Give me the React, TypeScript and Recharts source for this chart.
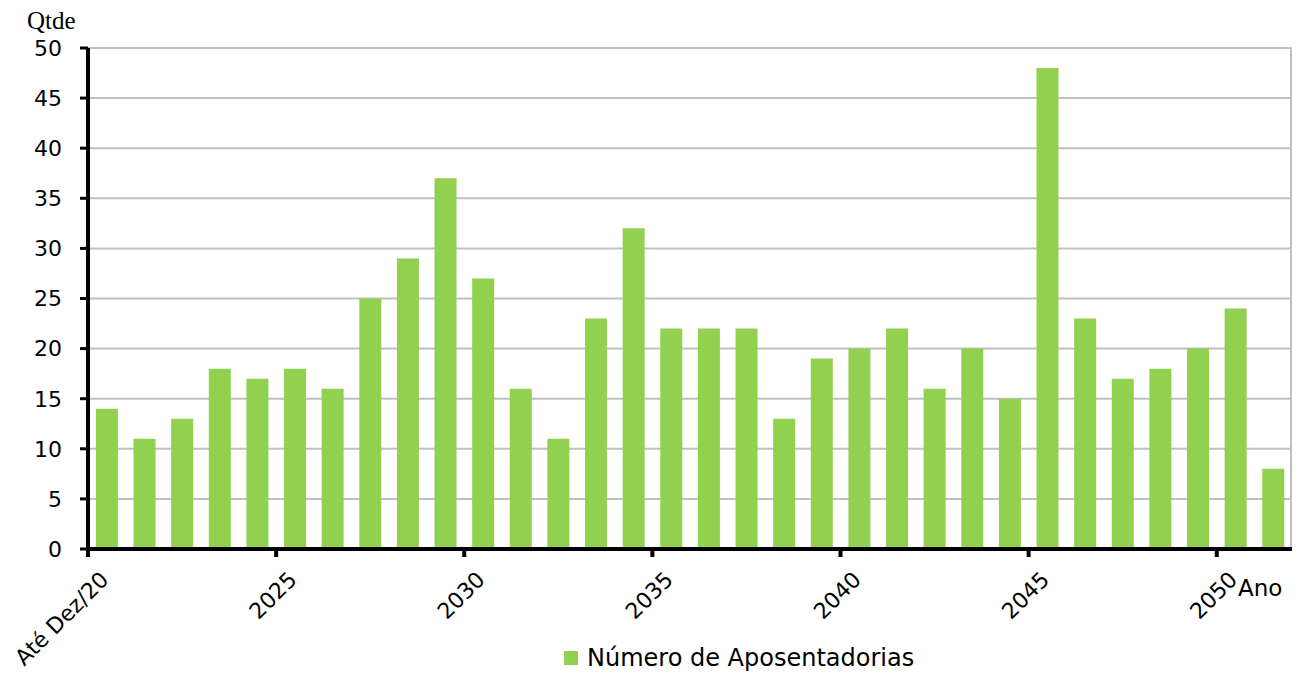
import { Bar, BarChart, CartesianGrid, Legend, XAxis, YAxis } from 'recharts'

const categories = [
  'Até Dez/20', '2021', '2022', '2023', '2024', '2025', '2026', '2027', '2028', '2029',
  '2030', '2031', '2032', '2033', '2034', '2035', '2036', '2037', '2038', '2039',
  '2040', '2041', '2042', '2043', '2044', '2045', '2046', '2047', '2048', '2049',
  '2050', '2051',
]
const aposentadorias = [
  14, 11, 13, 18, 17, 18, 16, 25, 29, 37,
  27, 16, 11, 23, 32, 22, 22, 22, 13, 19,
  20, 22, 16, 20, 15, 48, 23, 17, 18, 20,
  24, 8,
]
const yTicks = [0, 5, 10, 15, 20, 25, 30, 35, 40, 45, 50]
const labelEvery = 5

const data = categories.map((ano, i) => ({ ano, valor: aposentadorias[i] }))

const W = 1301
const H = 677
const PLOT_LEFT = 88
const PLOT_RIGHT = 1292
const BAND = (PLOT_RIGHT - PLOT_LEFT) / categories.length
const GREEN = '#92D050'
const SANS = '"DejaVu Sans", Arial, sans-serif'

function XTick(props: any) {
  const { x, y, payload } = props
  const i = payload.index
  if (i % labelEvery !== 0) return <g />
  const bx = x - BAND / 2
  const tx = bx + 22
  const ty = y + 32
  return (
    <g>
      <line x1={bx} x2={bx} y1={y} y2={y + 8} stroke="#000" strokeWidth={4} />
      <text x={tx} y={ty} transform={`rotate(-45 ${tx} ${ty})`} textAnchor="end" fontSize={22} fontFamily={SANS} fill="#000">
        {payload.value}
      </text>
    </g>
  )
}

function LegendContent() {
  return (
    <div style={{ display: 'flex', alignItems: 'center', height: 30, fontFamily: SANS, fontSize: 24, color: '#000' }}>
      <span style={{ display: 'inline-block', width: 14, height: 14, background: GREEN, marginRight: 9 }} />
      <span>Número de Aposentadorias</span>
    </div>
  )
}

export default function App() {
  return (
    <div style={{ position: 'absolute', left: 0, top: 0 }}>
      <BarChart width={W} height={H} data={data} margin={{ top: 48, right: W - PLOT_RIGHT, bottom: 0, left: 0 }} barCategoryGap="21%">
        <CartesianGrid horizontal vertical verticalPoints={[PLOT_RIGHT - 1]} stroke="#c0c0c0" strokeWidth={2} />
        <XAxis
          dataKey="ano"
          height={98}
          interval={0}
          tickSize={0}
          tickMargin={0}
          tickLine={false}
          tick={<XTick />}
          axisLine={{ stroke: '#000', strokeWidth: 4 }}
          label={{ content: () => <text x={1238} y={596} fontSize={23} fontFamily={SANS} fill="#000">Ano</text> }}
        />
        <YAxis
          width={PLOT_LEFT}
          domain={[0, 50]}
          ticks={yTicks}
          interval={0}
          tickSize={8}
          tickMargin={18}
          tickLine={{ stroke: '#000', strokeWidth: 3 }}
          axisLine={{ stroke: '#000', strokeWidth: 4 }}
          tick={{ fontSize: 22, fontFamily: SANS, fill: '#000' }}
          label={{ content: () => <text x={27} y={29} fontSize={25} fontFamily='"Liberation Serif", "Times New Roman", serif' fill="#000">Qtde</text> }}
        />
        <Legend verticalAlign="bottom" content={<LegendContent />} wrapperStyle={{ left: 564, bottom: 4, width: 'auto' }} />
        <Bar dataKey="valor" name="Número de Aposentadorias" fill={GREEN} isAnimationActive={false} />
      </BarChart>
    </div>
  )
}
